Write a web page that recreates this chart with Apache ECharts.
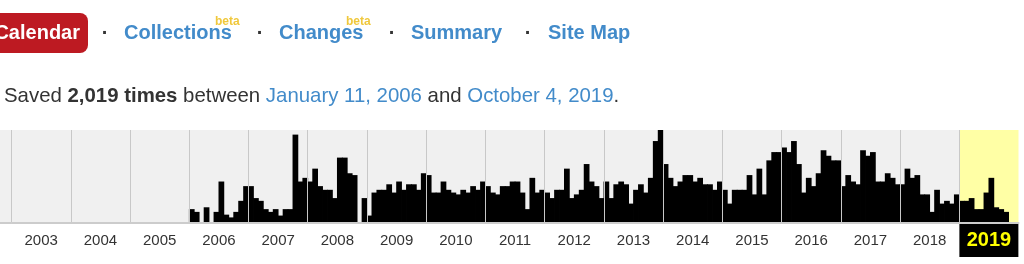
<!DOCTYPE html>
<html><head><meta charset="utf-8">
<script src="https://cdn.jsdelivr.net/npm/echarts@6/dist/echarts.min.js"></script>
<style>html,body{margin:0;padding:0;background:#fff;overflow:hidden}#c{width:1024px;height:264px}</style>
</head><body><div id="c"></div>
<script>
// ---- data (relative monthly capture volume, busiest month = 100) ----
const yearLabels = ['2003','2004','2005','2006','2007','2008','2009','2010','2011','2012','2013','2014','2015','2016','2017','2018','2019'];
const selectedYear = '2019';
const cap2003 = [];
const cap2004 = [];
const cap2005 = [];
const cap2006 = [14, 11, 0, 16, 0, 11, 44, 8, 5, 11, 23, 39];
const cap2007 = [39, 26, 23, 14, 11, 14, 7, 14, 14, 95, 44, 48];
const cap2008 = [44, 58, 39, 35, 35, 26, 70, 70, 53, 51, 0, 26];
const cap2009 = [7, 32, 35, 35, 41, 32, 44, 35, 41, 41, 35, 53];
const cap2010 = [51, 32, 32, 44, 35, 32, 30, 35, 32, 39, 35, 44];
const cap2011 = [39, 32, 30, 39, 39, 44, 44, 32, 14, 48, 32, 35];
const cap2012 = [32, 26, 35, 35, 58, 26, 30, 35, 63, 44, 39, 26];
const cap2013 = [44, 26, 41, 44, 41, 20, 35, 41, 32, 48, 88, 100];
const cap2014 = [63, 48, 39, 44, 51, 51, 44, 48, 41, 41, 35, 44];
const cap2015 = [35, 20, 35, 35, 35, 51, 30, 58, 30, 67, 76, 76];
const cap2016 = [81, 76, 88, 63, 32, 48, 39, 53, 78, 72, 67, 67];
const cap2017 = [39, 51, 44, 41, 78, 72, 76, 44, 44, 53, 48, 41];
const cap2018 = [41, 58, 48, 51, 30, 30, 11, 35, 20, 23, 20, 30];
const cap2019 = [23, 23, 26, 14, 14, 32, 48, 16, 14, 11];
const navLinks = ['Collections', 'Changes', 'Summary', 'Site Map'];

// ---- build ----
const capByYear = [cap2003,cap2004,cap2005,cap2006,cap2007,cap2008,cap2009,cap2010,cap2011,cap2012,cap2013,cap2014,cap2015,cap2016,cap2017,cap2018,cap2019];
const months = [];
yearLabels.forEach(y => { for (let m = 1; m <= 12; m++) months.push(y + '-' + (m < 10 ? '0' + m : m)); });
const values = capByYear.flatMap(a => Array.from({length: 12}, (_, i) => (a[i] === undefined ? null : a[i])));

const FONT = '"Liberation Sans", Arial, sans-serif';
const LINK = '#428bca';
const TXT = '#333';

const chart = echarts.init(document.getElementById('c'), null, {renderer: 'canvas'});

function txt(x, y, text, opts) {
  return {type: 'text', x: x, y: y, silent: true, z: 10, style: Object.assign({
    text: text, fill: TXT, font: '20px ' + FONT,
    align: 'left', verticalAlign: 'middle', textAlign: 'left', textVerticalAlign: 'middle'
  }, opts || {})};
}

const navX = [124, 279, 411, 548];
const dotX = [105, 260, 392, 528];
const graphics = [
  {type: 'rect', silent: true, z: 5, shape: {x: -20, y: 13, width: 108, height: 40, r: 8}, style: {fill: '#bd1a22'}},
  txt(80, 33, 'Calendar', {fill: '#fff', font: 'bold 20px ' + FONT, align: 'right', textAlign: 'right'}),
  // left strip of the timeline before 2003
  {type: 'rect', silent: true, z: 0, shape: {x: 0, y: 130, width: 11.6, height: 92}, style: {fill: '#f0f0f0'}},
  {type: 'rect', silent: true, z: 0, shape: {x: 0, y: 222, width: 11.6, height: 2}, style: {fill: '#ccc'}}
];
navLinks.forEach((t, i) => {
  graphics.push(txt(dotX[i], 33, '·', {font: 'bold 20px ' + FONT, align: 'center', textAlign: 'center'}));
  graphics.push(txt(navX[i], 33, t, {fill: LINK, font: 'bold 20px ' + FONT}));
});
graphics.push(txt(215, 22, 'beta', {fill: '#f0c83c', font: 'bold 12px ' + FONT}));
graphics.push(txt(346, 22, 'beta', {fill: '#f0c83c', font: 'bold 12px ' + FONT}));
const FS2 = 20.4;
graphics.push({type: 'text', x: 4, y: 96.5, silent: true, z: 10, style: {
  text: '{n|Saved }{b|2,019 times}{n| between }{l|January 11, 2006}{n| and }{l|October 4, 2019}{n|.}',
  align: 'left', verticalAlign: 'middle', textAlign: 'left', textVerticalAlign: 'middle',
  font: FS2 + 'px ' + FONT, fill: TXT,
  rich: {
    n: {fill: TXT, color: TXT, fontSize: FS2, fontFamily: FONT},
    b: {fill: TXT, color: TXT, fontSize: FS2, fontFamily: FONT, fontWeight: 'bold'},
    l: {fill: LINK, color: LINK, fontSize: FS2, fontFamily: FONT}
  }
}});

chart.setOption({
  animation: false,
  backgroundColor: '#fff',
  grid: {left: 11.6, right: 5.5, top: 130, bottom: 42, containLabel: false},
  xAxis: [
    {type: 'category', data: months, position: 'bottom', show: true, z: 0,
      axisLine: {show: false}, axisTick: {show: false}, axisLabel: {show: false},
      splitLine: {show: false}, splitArea: {show: false}, minorTick: {show: false}, minorSplitLine: {show: false}},
    {type: 'category', data: yearLabels, position: 'bottom', offset: 1, z: 0,
      axisLine: {show: true, onZero: false, lineStyle: {color: '#ccc', width: 2}},
      axisTick: {show: false},
      splitLine: {show: false},
      splitArea: {show: true, areaStyle: {color: yearLabels.map(y => y === selectedYear ? '#ffffa5' : '#f0f0f0')}},
      axisLabel: {
        interval: 0, margin: 1, lineHeight: 33, fontSize: 15, color: TXT, fontFamily: FONT,
        formatter: v => v === selectedYear ? '{sel|' + v + '}' : v,
        rich: {sel: {color: '#ffff00', fontWeight: 'bold', fontSize: 20, fontFamily: FONT,
          backgroundColor: '#000', width: 59, height: 33, lineHeight: 33, align: 'center'}}
      }},
    {type: 'category', data: yearLabels, position: 'bottom', offset: 0, z: 5,
      axisLine: {show: false}, axisTick: {show: false}, axisLabel: {show: false}, splitArea: {show: false},
      splitLine: {show: true, showMinLine: true, showMaxLine: false, interval: 0, lineStyle: {color: '#c8c8c8', width: 1}}}
  ],
  yAxis: {type: 'value', min: 0, max: 100, show: false, splitLine: {show: false}, splitArea: {show: false}},
  series: [{
    type: 'custom', xAxisIndex: 0, yAxisIndex: 0, silent: true, z: 2,
    data: months.map((m, i) => [m, values[i]]),
    encode: {x: 0, y: 1},
    renderItem: function (params, api) {
      const v = api.value(1);
      if (v == null || isNaN(v) || v === 0) return null;
      const idx = api.value(0);
      const top = api.coord([idx, v]);
      const base = api.coord([idx, 0]);
      const w = api.size([1, 0])[0];
      return {type: 'rect', shape: {x: top[0] - w / 2 - 0.4, y: top[1], width: w + 0.8, height: base[1] - top[1]},
        style: {fill: '#000', stroke: null, lineWidth: 0}};
    }
  }],
  graphic: graphics
});
</script></body></html>
